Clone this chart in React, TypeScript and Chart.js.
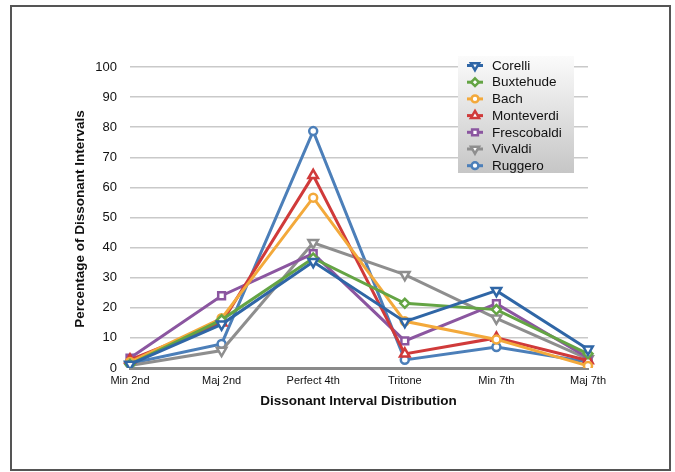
import React, { useEffect, useRef } from "react";
import { Chart, registerables } from "chart.js";

Chart.register(...registerables);

const categories = ["Min 2nd", "Maj 2nd", "Perfect 4th", "Tritone", "Min 7th", "Maj 7th"];
const yTicks = [0, 10, 20, 30, 40, 50, 60, 70, 80, 90, 100];

const corelli = [1.2, 14.5, 35.3, 15.4, 25.7, 6.2];
const buxtehude = [1.2, 16, 36.5, 21.5, 19.4, 4.7];
const bach = [2, 16.5, 56.6, 15.5, 9.5, 0.7];
const monteverdi = [2.7, 15, 64, 4.7, 10, 2.5];
const frescobaldi = [3.3, 24, 38, 9, 21.4, 3.4];
const vivaldi = [0.8, 5.8, 41.6, 31, 16.5, 3];
const ruggero = [1.5, 8, 78.7, 2.7, 7, 2];

const xTitle = "Dissonant Interval Distribution";
const yTitle = "Percentage of Dissonant Intervals";

const FONT = "'Liberation Sans', Arial, Helvetica, sans-serif";

type SeriesDef = {
  label: string;
  data: number[];
  color: string;
  style: string;
  rotation: number;
  radius: number;
};

const series: SeriesDef[] = [
  { label: "Corelli", data: corelli, color: "#2f66a6", style: "triangle", rotation: 180, radius: 5.5 },
  { label: "Buxtehude", data: buxtehude, color: "#64a444", style: "rectRot", rotation: 0, radius: 4.5 },
  { label: "Bach", data: bach, color: "#f3a93b", style: "circle", rotation: 0, radius: 4 },
  { label: "Monteverdi", data: monteverdi, color: "#d03a3a", style: "triangle", rotation: 0, radius: 5.5 },
  { label: "Frescobaldi", data: frescobaldi, color: "#8b56a0", style: "rect", rotation: 0, radius: 4.8 },
  { label: "Vivaldi", data: vivaldi, color: "#8e8e8e", style: "triangle", rotation: 180, radius: 5.5 },
  { label: "Ruggero", data: ruggero, color: "#4c7fb9", style: "circle", rotation: 0, radius: 4 },
];

// white page with a dark frame around the whole figure
const framePlugin = {
  id: "frame",
  beforeDraw(chart: any) {
    const { ctx } = chart;
    ctx.save();
    ctx.fillStyle = "#ffffff";
    ctx.fillRect(0, 0, chart.width, chart.height);
    ctx.strokeStyle = "#555555";
    ctx.lineWidth = 2;
    ctx.strokeRect(11, 6, 659, 464);
    ctx.restore();
  },
};

const titlesPlugin = {
  id: "axisTitles",
  afterDraw(chart: any) {
    const { ctx, chartArea } = chart;
    ctx.save();
    ctx.fillStyle = "#111111";
    ctx.font = `bold 13.5px ${FONT}`;
    ctx.textAlign = "center";
    ctx.textBaseline = "middle";
    ctx.fillText(xTitle, (chartArea.left + chartArea.right) / 2 - 0.5, 401);
    ctx.translate(80, 219);
    ctx.rotate(-Math.PI / 2);
    ctx.fillText(yTitle, 0, 0);
    ctx.restore();
  },
};

function drawMarker(ctx: CanvasRenderingContext2D, s: SeriesDef, x: number, y: number) {
  const r = s.radius * 0.85;
  ctx.beginPath();
  if (s.style === "circle") {
    ctx.arc(x, y, r, 0, Math.PI * 2);
  } else if (s.style === "rect") {
    const a = Math.SQRT1_2 * r;
    ctx.rect(x - a, y - a, 2 * a, 2 * a);
  } else if (s.style === "rectRot") {
    ctx.moveTo(x, y - r);
    ctx.lineTo(x + r, y);
    ctx.lineTo(x, y + r);
    ctx.lineTo(x - r, y);
    ctx.closePath();
  } else {
    const d = s.rotation === 180 ? -1 : 1;
    ctx.moveTo(x, y - d * r);
    ctx.lineTo(x + r * 0.866, y + d * r * 0.5);
    ctx.lineTo(x - r * 0.866, y + d * r * 0.5);
    ctx.closePath();
  }
  ctx.fillStyle = "#ffffff";
  ctx.fill();
  ctx.strokeStyle = s.color;
  ctx.lineWidth = 2.5;
  ctx.stroke();
}

// legend box with a vertical grey gradient, placed inside the plot
const legendPlugin = {
  id: "boxLegend",
  afterDraw(chart: any) {
    const { ctx } = chart;
    const x0 = 458;
    const y0 = 56;
    const w = 116;
    const h = 117;
    ctx.save();
    const g = ctx.createLinearGradient(0, y0, 0, y0 + h);
    g.addColorStop(0, "#fbfbfb");
    g.addColorStop(1, "#c6c6c6");
    ctx.fillStyle = g;
    ctx.fillRect(x0, y0, w, h);
    series.forEach((s, i) => {
      const cy = 65.5 + i * 16.7;
      const cx = 475;
      ctx.strokeStyle = s.color;
      ctx.lineWidth = 3;
      ctx.beginPath();
      ctx.moveTo(cx - 8, cy);
      ctx.lineTo(cx + 8, cy);
      ctx.stroke();
      drawMarker(ctx, s, cx, cy);
      ctx.fillStyle = "#111111";
      ctx.font = `13.5px ${FONT}`;
      ctx.textAlign = "left";
      ctx.textBaseline = "middle";
      ctx.fillText(s.label, 492, cy + 0.5);
    });
    ctx.restore();
  },
};

export default function App() {
  const ref = useRef<HTMLCanvasElement | null>(null);

  useEffect(() => {
    document.body.style.margin = "0";
    const canvas = ref.current;
    if (!canvas) return;
    const chart = new Chart(canvas, {
      type: "line",
      data: {
        labels: categories,
        datasets: series.map((s) => ({
          label: s.label,
          data: s.data,
          borderColor: s.color,
          backgroundColor: "#ffffff",
          borderWidth: 3,
          pointStyle: s.style as any,
          rotation: s.rotation,
          pointRadius: s.radius,
          pointBorderWidth: 2.5,
          pointBackgroundColor: "#ffffff",
          pointBorderColor: s.color,
          tension: 0,
        })),
      },
      options: {
        responsive: false,
        animation: false,
        events: [],
        layout: { padding: { left: 0, right: 87, top: 67, bottom: 0 } },
        plugins: {
          legend: { display: false },
          tooltip: { enabled: false },
        },
        scales: {
          x: {
            offset: false,
            grid: { display: false, drawTicks: false },
            border: { display: true, color: "#8a8a8a", width: 3 },
            ticks: {
              padding: 6,
              color: "#111111",
              font: { family: FONT, size: 11 },
              maxRotation: 0,
              autoSkip: false,
            },
            afterFit: (s: any) => {
              s.height = 104;
            },
          },
          y: {
            min: 0,
            max: 100,
            afterBuildTicks: (s: any) => {
              s.ticks = yTicks.map((v) => ({ value: v }));
            },
            grid: {
              color: (c: any) => (c.tick && c.tick.value === 0 ? "rgba(0,0,0,0)" : "#c9c9c9"),
              lineWidth: 1.5,
              drawTicks: false,
            },
            border: { display: false },
            ticks: {
              padding: 13,
              color: "#111111",
              font: { family: FONT, size: 13 },
            },
            afterFit: (s: any) => {
              s.width = 130;
            },
          },
        },
      },
      plugins: [framePlugin, titlesPlugin, legendPlugin],
    });
    return () => chart.destroy();
  }, []);

  return (
    <div style={{ width: 675, height: 472 }}>
      <canvas ref={ref} width={675} height={472} style={{ display: "block" }} />
    </div>
  );
}
